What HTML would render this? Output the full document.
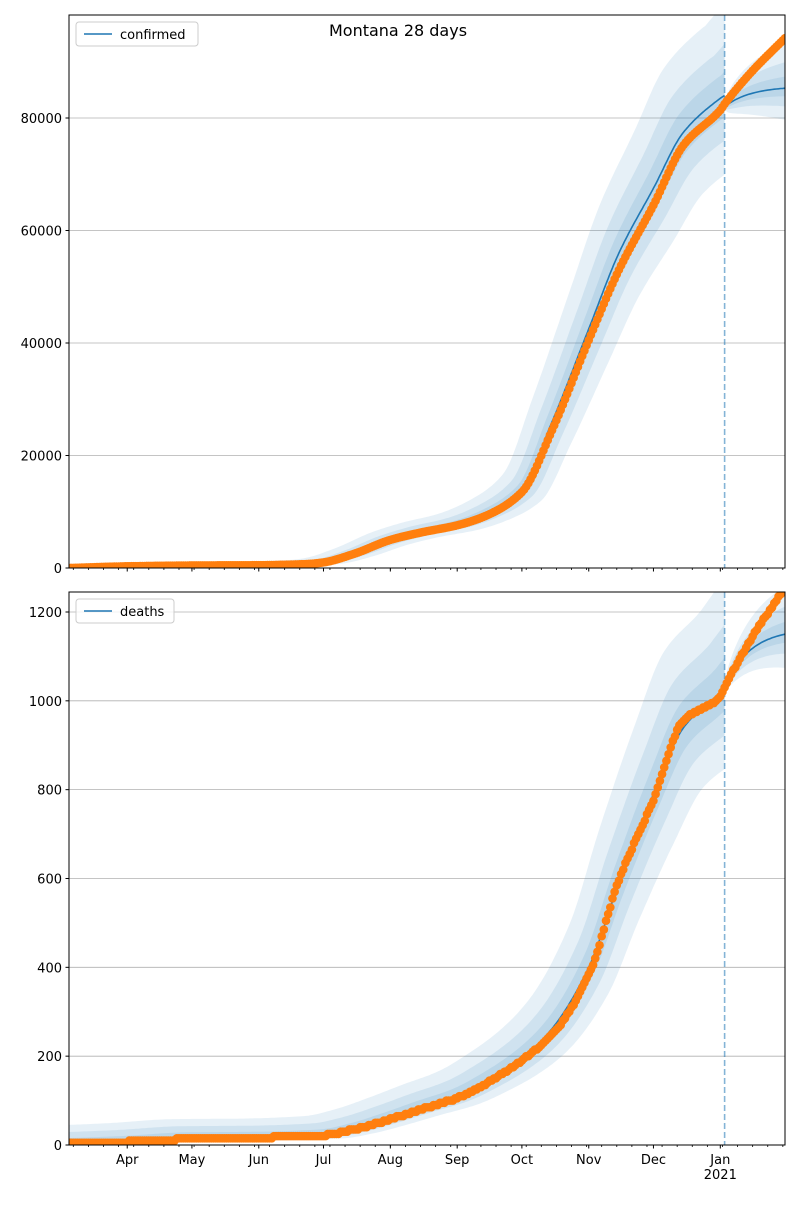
<!DOCTYPE html>
<html><head><meta charset="utf-8"><style>
html,body{margin:0;padding:0;background:#fff;}
svg text{font-family:"DejaVu Sans","Liberation Sans",sans-serif;font-size:13px;fill:#000;}
</style></head><body>
<svg id="s" width="800" height="1200" xmlns="http://www.w3.org/2000/svg">
<text x="398" y="36" text-anchor="middle" style="font-size:16px">Montana 28 days</text>
</svg>
<script>
const S=document.getElementById('s');const NS='http://www.w3.org/2000/svg';
function el(t,a,p){const e=document.createElementNS(NS,t);for(const k in a)e.setAttribute(k,a[k]);(p||S).appendChild(e);return e;}
const X0=69,X1=785,T=332;const xs=t=>X0+t*(X1-X0)/T;
function mono(kp){const n=kp.length,x=kp.map(p=>p[0]),y=kp.map(p=>p[1]);const d=[],m=[];
 for(let i=0;i<n-1;i++)d.push((y[i+1]-y[i])/(x[i+1]-x[i]));
 m[0]=d[0];m[n-1]=d[n-2];for(let i=1;i<n-1;i++){m[i]=(d[i-1]*d[i]<=0)?0:2/(1/d[i-1]+1/d[i]);}
 return t=>{if(t<=x[0])return y[0];if(t>=x[n-1])return y[n-1];let i=0;while(t>x[i+1])i++;
  const h=x[i+1]-x[i],u=(t-x[i])/h;const h00=2*u*u*u-3*u*u+1,h10=u*u*u-2*u*u+u,h01=-2*u*u*u+3*u*u,h11=u*u*u-u*u;
  return h00*y[i]+h10*h*m[i]+h01*y[i+1]+h11*h*m[i+1];};}
function panel(o){
 const {top,bot,ymax,ticks,fc0,fc1,off,lbl,xlabels,id}=o;const obs=mono(o.obs),mod=mono(o.mod);
 const ys=v=>bot-(v/ymax)*(bot-top);const P=p=>p[0].toFixed(1)+','+p[1].toFixed(1);
 const cp=el('clipPath',{id:id});el('rect',{x:X0,y:top,width:X1-X0,height:bot-top},cp);
 const g=el('g',{'clip-path':'url(#'+id+')'});
 ticks.forEach(v=>{el('line',{x1:X0,x2:X1,y1:ys(v),y2:ys(v),stroke:'#b0b0b0','stroke-width':0.8},g);});
 const F=[0.14,0.08,0.04],SH=[9,5,2],FF=[0.09,0.05,0.02];
 function fc(t){const e=1-Math.exp(-(t-304)/12),E=1-Math.exp(-28/12);return fc0+(fc1-fc0)*e/E;}
 for(let k=0;k<3;k++){
  let up=[],dn=[];
  for(let t=0;t<=304;t++){
   const vu=mod(t+SH[k]);const vd=mod(Math.max(0,t-SH[k]));
   const ext=t+SH[k]>304?(t+SH[k]-304)*o.slope:0;
   up.push([xs(t),ys((vu+ext)*(1+F[k])+off[k])]);dn.push([xs(t),ys(Math.max(0,vd*(1-F[k])-off[k]*0.1))]);}
  let d='M'+up.map(P).join('L')+'L'+dn.reverse().map(P).join('L')+'Z';
  el('path',{d:d,fill:'#1f77b4','fill-opacity':0.11,stroke:'none'},g);
  up=[];dn=[];
  for(let t=304;t<=T;t++){const u=(t-304)/28;const v=fc(t);const w=FF[k]*Math.sqrt(u)+0.004;
   up.push([xs(t),ys(v*(1+w))]);dn.push([xs(t),ys(v*(1-w*0.7))]);}
  d='M'+up.map(P).join('L')+'L'+dn.reverse().map(P).join('L')+'Z';
  el('path',{d:d,fill:'#1f77b4','fill-opacity':0.11,stroke:'none'},g);
 }
 let pts=[];for(let t=0;t<=304;t+=0.5)pts.push(P([xs(t),ys(mod(t))]));
 el('polyline',{points:pts.join(' '),fill:'none',stroke:'#1f77b4','stroke-width':1.6},g);
 pts=[];for(let t=304;t<=T;t++)pts.push(P([xs(t),ys(fc(t))]));
 el('polyline',{points:pts.join(' '),fill:'none',stroke:'#1f77b4','stroke-width':1.6},g);
 el('line',{x1:xs(304),x2:xs(304),y1:top,y2:bot,stroke:'#1f77b4','stroke-opacity':0.55,'stroke-width':1.6,'stroke-dasharray':'6,3'},g);
 for(let t=0;t<=T;t++){let v=obs(t);if(o.step)v=Math.round(v/o.step)*o.step;el('circle',{cx:xs(t),cy:ys(v),r:4.3,fill:'#ff7f0e'},g);}
 el('rect',{x:X0,y:top,width:X1-X0,height:bot-top,fill:'none',stroke:'#000','stroke-width':1});
 ticks.forEach(v=>{el('line',{x1:X0-3.5,x2:X0,y1:ys(v),y2:ys(v),stroke:'#000'});const tx=el('text',{x:X0-7,y:ys(v)+5,'text-anchor':'end'});tx.textContent=v;});
 const months=[27,57,88,118,149,180,210,241,271,302];const names=['Apr','May','Jun','Jul','Aug','Sep','Oct','Nov','Dec','Jan'];
 for(let t=2;t<=T;t+=7)el('line',{x1:xs(t),x2:xs(t),y1:bot,y2:bot+2,stroke:'#000','stroke-width':0.8});
 months.forEach((t,i)=>{el('line',{x1:xs(t),x2:xs(t),y1:bot,y2:bot+3.5,stroke:'#000'});
  if(xlabels){const tx=el('text',{x:xs(t),y:bot+19,'text-anchor':'middle'});tx.textContent=names[i];}});
 if(xlabels){const tx=el('text',{x:xs(302),y:bot+34,'text-anchor':'middle'});tx.textContent='2021';}
 const w=lbl.length*8+50;
 el('rect',{x:76,y:top+7,width:w,height:24,rx:3,fill:'#fff','fill-opacity':0.8,stroke:'#ccc'});
 el('line',{x1:84,x2:112,y1:top+19,y2:top+19,stroke:'#1f77b4','stroke-width':1.6});
 const tx=el('text',{x:120,y:top+24});tx.textContent=lbl;
}
panel({id:'c1',top:15,bot:568,ymax:98311,ticks:[0,20000,40000,60000,80000],slope:400,
 obs:[[0,0],[27,300],[57,450],[88,500],[110,700],[118,1000],[132,2500],[149,5000],[163,6300],[180,7600],[194,9400],[210,13500],[224,24500],[241,40500],[255,53000],[271,64500],[285,75200],[302,81400],[304,82500],[316,88000],[332,94200]],
 mod:[[0,0],[27,300],[57,450],[88,500],[110,700],[118,1000],[132,2500],[149,5000],[163,6500],[180,7900],[194,9900],[210,14000],[224,26000],[241,42500],[255,56000],[271,67500],[285,77500],[302,83500],[304,84000]],
 fc0:82000,fc1:85300,off:[600,300,100],lbl:'confirmed',xlabels:false});
panel({id:'c2',top:592,bot:1145,ymax:1245,ticks:[0,200,400,600,800,1000,1200],step:5,slope:6,
 obs:[[0,3],[26,3],[28,8],[45,10],[57,16],[88,17],[118,22],[132,35],[149,58],[163,80],[180,106],[194,140],[210,191],[224,248],[241,383],[255,597],[271,777],[285,957],[302,1008],[304,1030],[316,1137],[332,1255]],
 mod:[[0,3],[27,8],[57,16],[88,17],[118,22],[132,35],[149,60],[163,83],[180,110],[194,145],[210,196],[224,262],[241,400],[255,590],[271,790],[285,940],[302,1020],[304,1032]],
 fc0:1032,fc1:1150,off:[40,25,12],lbl:'deaths',xlabels:true});
</script>
</body></html>
